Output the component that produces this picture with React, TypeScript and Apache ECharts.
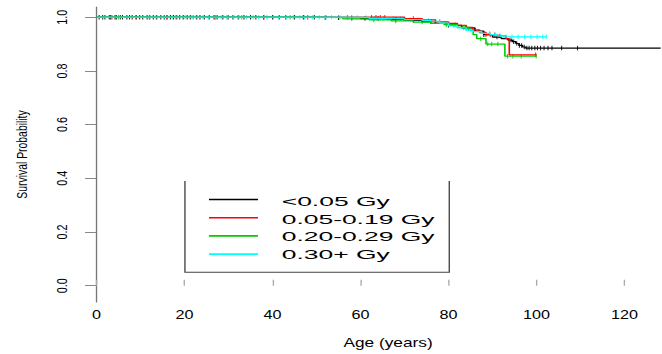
import React, { useEffect, useRef } from "react";
import * as echarts from "echarts";

// horizontal stretch of the reference picture
const K = 1.35;
const W = 504; // chart canvas width (clipped by the 662px page)
const H = 354;
const FONT = "'Liberation Sans', Arial, Helvetica, sans-serif";

const groups = ["<0.05 Gy", "0.05-0.19 Gy", "0.20-0.29 Gy", "0.30+ Gy"];
const colors = ["#000000", "#ff0000", "#00cd00", "#00ffff"];

// Kaplan-Meier step curves (age in years, survival probability after that age)
const ageA = [0, 50, 60, 66, 70, 74, 77, 80, 83, 86, 88, 90, 92, 93.5, 94.5, 95.3, 96, 96.8, 97.5, 128.2];
const survA = [1, 0.998, 0.995, 0.992, 0.988, 0.983, 0.977, 0.97, 0.96, 0.948, 0.935, 0.926, 0.92, 0.915, 0.909, 0.902, 0.895, 0.889, 0.885, 0.885];

const ageB = [0, 66, 70, 74, 77, 80, 82, 84, 85.5, 87, 88.5, 91, 93, 93.8, 100];
const survB = [1, 1, 0.995, 0.99, 0.983, 0.977, 0.97, 0.962, 0.953, 0.944, 0.935, 0.93, 0.92, 0.86, 0.86];

const ageC = [0, 50, 56, 62, 67, 72, 76, 79, 82, 84.5, 85.6, 86.4, 88.5, 92.8, 100];
const survC = [1, 0.998, 0.994, 0.99, 0.986, 0.982, 0.977, 0.972, 0.963, 0.952, 0.935, 0.92, 0.9, 0.855, 0.855];

const ageD = [0, 55, 62, 66, 70, 74, 76, 78, 80, 82, 84, 85.5, 87.5, 89.5, 91, 92, 102.3];
const survD = [1, 0.999, 0.996, 0.994, 0.991, 0.988, 0.985, 0.978, 0.968, 0.96, 0.952, 0.946, 0.94, 0.935, 0.93, 0.927, 0.927];

// censoring times (tick marks)
const censA = [0.6, 1.4, 1.9, 2.9, 3.2, 4.2, 4.5, 5.4, 5.9, 6.9, 7.5, 8.1, 9.0, 9.8, 10.5, 11.5, 12.1, 12.9, 13.6, 14.6, 15.4, 16.0, 16.8, 17.5, 18.1, 18.9, 19.7, 20.6, 21.3, 22.7, 23.5, 24.5, 25.6, 26.7, 27.4, 28.7, 29.9, 31, 32.2, 33.5, 35, 36.2, 38, 40, 41.5, 43, 45, 47, 49.5, 52, 55, 58, 61, 64, 68, 72, 76, 80, 84, 88, 91, 94.2, 94.8, 95.5, 96.1, 96.6, 97.2, 97.8, 98.3, 98.9, 99.6, 100.2, 100.9, 101.7, 102.6, 103.5, 105.7, 109.3];
const censB = [3.5, 9, 16, 27, 38, 48, 57, 62.5, 63.5, 64.5, 65.5, 72, 78, 84, 88.5, 89.5, 90.5, 91.5, 99.8];
const censC = [5, 12, 22, 33, 44, 52, 58, 63, 68, 74, 79.5, 81.5, 83.5, 87.3, 88.9, 89.8, 91.2, 93.4, 94.6, 96.5, 99.9];
const censD = [13.8, 15.3, 17.2, 18.4, 20.1, 21.7, 22.9, 24.2, 25.4, 27.1, 28.3, 29.6, 31.2, 32.4, 34.1, 35.6, 36.8, 38.7, 40.2, 41.4, 43.1, 44.7, 46.2, 47.3, 49.1, 50.6, 52.2, 53.4, 55.3, 57.1, 59.2, 61.3, 63.1, 65.2, 67.4, 69.1, 71.3, 73.2, 75.4, 77.1, 79.3, 81.2, 83.4, 85.1, 87.2, 89.3, 90.6, 91.8, 93.1, 94.4, 95.8, 97.3, 98.7, 100.1, 101.4, 102.2];

const xTicks = [0, 20, 40, 60, 80, 100, 120];
const yTicks = [0, 0.2, 0.4, 0.6, 0.8, 1.0];

const curveAges = [ageA, ageB, ageC, ageD];
const curveSurv = [survA, survB, survC, survD];
const censors = [censA, censB, censC, censD];

function survAt(ages: number[], surv: number[], t: number): number {
  let v = surv[0];
  for (let i = 0; i < ages.length; i++) {
    if (ages[i] <= t) v = surv[i];
  }
  return v;
}

export default function App() {
  const ref = useRef<HTMLDivElement>(null);

  useEffect(() => {
    if (!ref.current) return;
    const chart = echarts.init(ref.current, null, { renderer: "svg", width: W, height: H });

    const series: any[] = [];
    groups.forEach((g, i) => {
      series.push({
        name: g,
        type: "line",
        step: "end",
        showSymbol: false,
        data: curveAges[i].map((a, j) => [a, curveSurv[i][j]]),
        lineStyle: { color: colors[i], width: 1.2 },
        itemStyle: { color: colors[i] },
        silent: true,
      });
      series.push({
        name: g + " censored",
        type: "scatter",
        symbol: "rect",
        symbolSize: [0.8, 4.5],
        data: censors[i].map((t) => [t, survAt(curveAges[i], curveSurv[i], t)]),
        itemStyle: { color: colors[i], opacity: 0.85 },
        silent: true,
      });
    });

    const legX0 = 137;
    const legX1 = 332.8;
    const legTop = 181;
    const legBottom = 272.3;
    const lineY = [199.5, 217.7, 235.9, 254.1];
    const textY = [201, 218.7, 236.3, 253.8];

    const legendChildren: any[] = [
      {
        type: "polyline",
        shape: { points: [[legX0, legTop], [legX0, legBottom], [legX1, legBottom], [legX1, legTop]] },
        style: { stroke: "#444", lineWidth: 1, fill: null },
      },
    ];
    groups.forEach((g, i) => {
      legendChildren.push({
        type: "line",
        shape: { x1: 154.8, y1: lineY[i], x2: 191.1, y2: lineY[i] },
        style: { stroke: colors[i], lineWidth: 1.6 },
      });
      legendChildren.push({
        type: "text",
        x: 208.7,
        y: textY[i],
        scaleX: 1.45,
        style: {
          text: g,
          fill: "#000",
          font: `13.5px ${FONT}`,
          textAlign: "left",
          textVerticalAlign: "middle",
        },
      });
    });

    chart.setOption({
      animation: false,
      backgroundColor: "#ffffff",
      grid: { left: 71.5, top: 7, width: 431.9, height: 299, containLabel: false },
      xAxis: {
        type: "value",
        min: 0,
        max: 132.5,
        name: "Age (years)",
        nameLocation: "middle",
        nameGap: 34,
        nameTextStyle: { fontSize: 12.8, color: "#000", fontFamily: FONT },
        axisLine: { show: false },
        axisTick: {
          show: true,
          inside: true,
          length: 6,
          customValues: xTicks,
          lineStyle: { color: "#aaaaaa", width: 1 },
        },
        axisLabel: {
          customValues: xTicks,
          fontSize: 12,
          margin: 7,
          color: "#000",
          fontFamily: FONT,
        },
        splitLine: { show: false },
      },
      yAxis: {
        type: "value",
        min: -0.0606,
        max: 1.038,
        name: "Survival Probability",
        nameLocation: "middle",
        nameGap: 50,
        nameTextStyle: { fontSize: 10.4, color: "#000", fontFamily: FONT },
        axisLine: { show: true, lineStyle: { color: "#777", width: 1 } },
        axisTick: {
          show: true,
          length: 8.5,
          customValues: yTicks,
          lineStyle: { color: "#888", width: 1 },
        },
        axisLabel: {
          customValues: yTicks,
          rotate: 90,
          fontSize: 10.8,
          margin: 20,
          color: "#000",
          fontFamily: FONT,
          formatter: (v: number) => v.toFixed(1),
        },
        splitLine: { show: false },
      },
      graphic: [{ type: "group", children: legendChildren }],
      series,
    });

    return () => chart.dispose();
  }, []);

  return (
    <div
      style={{
        position: "fixed",
        left: 0,
        top: 0,
        width: 662,
        height: H,
        overflow: "hidden",
        background: "#fff",
      }}
    >
      <div
        ref={ref}
        style={{
          width: W,
          height: H,
          transform: `scaleX(${K})`,
          transformOrigin: "0 0",
        }}
      />
    </div>
  );
}
